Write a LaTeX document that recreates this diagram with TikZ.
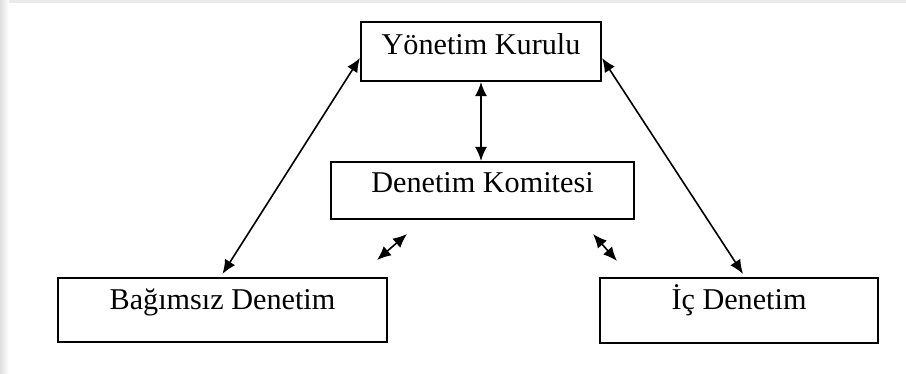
\documentclass[tikz,border=0pt]{standalone}
\usepackage{fontspec}
\setmainfont{Liberation Serif}
\usetikzlibrary{arrows.meta,positioning}

\begin{document}
\begin{tikzpicture}[x=0.5pt,y=-0.5pt,<->,>={Latex[length=7pt,width=6pt]},
                    line width=0.8pt]
  \tikzstyle{kutu}=[draw,line width=1.1pt,inner sep=0pt,text height=10pt,
                    font=\fontsize{15.1}{18}\selectfont]
  \useasboundingbox (0,0) rectangle (906,374);
  \shade[-,left color=black!12,right color=white] (0,0) rectangle (9,374);
  \fill[-,black!8] (9,0) rectangle (906,3);

  \node[kutu,minimum width=120pt,minimum height=29.5pt,text depth=6.5pt]
        (yk) at (481,51.5)    {Yönetim Kurulu};
  \node[kutu,minimum width=151.5pt,minimum height=28.5pt,text depth=8.5pt]
        (dk) at (482.5,190.5) {Denetim Komitesi};
  \node[kutu,minimum width=164.5pt,minimum height=32pt,text depth=11pt]
        (bd) at (222.5,310)   {Bağımsız Denetim};
  \node[kutu,minimum width=139pt,minimum height=32.5pt,text depth=11.5pt]
        (id) at (739,310.5)   {İç Denetim};

  \coordinate (s1) at (377,260);
  \coordinate (s2) at (407,234);
  \coordinate (s3) at (593,234);
  \coordinate (s4) at (617,261);

  \draw ([yshift=1.5pt]bd.north) -- ([yshift=-3.25pt]yk.west);
  \draw ([yshift=-3.25pt]yk.east) -- ([xshift=2pt,yshift=1.5pt]id.north);
  \draw (yk.south) -- (yk.south |- dk.north);
  \draw (s1) -- (s2);
  \draw (s3) -- (s4);
\end{tikzpicture}
\end{document}
